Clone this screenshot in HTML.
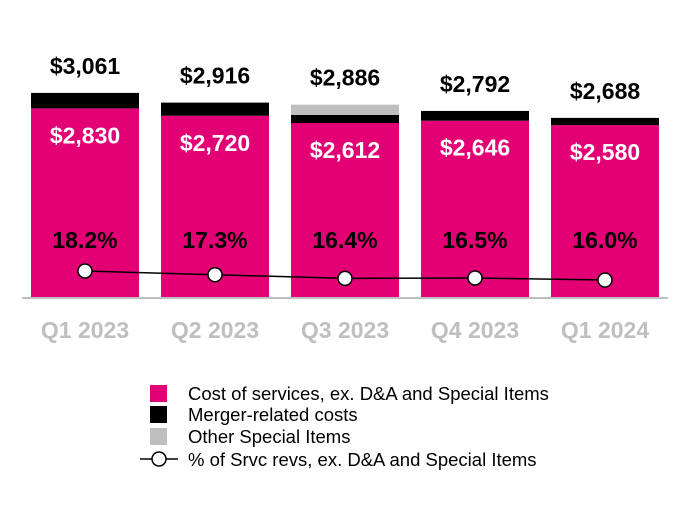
<!DOCTYPE html>
<html><head><meta charset="utf-8"><style>
body{margin:0;background:#fff;font-family:"Liberation Sans",Arial,sans-serif}
svg text{font-family:"Liberation Sans",Arial,sans-serif}
</style></head><body>
<svg id="c" width="690" height="500"></svg>
<script>
const categories=["Q1 2023","Q2 2023","Q3 2023","Q4 2023","Q1 2024"];
const costValues=[2830,2720,2612,2646,2580];
const mergerValues=[231,196,120,146,108];
const otherValues=[0,0,154,0,0];
const totalLabels=["$3,061","$2,916","$2,886","$2,792","$2,688"];
const costLabels=["$2,830","$2,720","$2,612","$2,646","$2,580"];
const pctValues=[18.2,17.3,16.4,16.5,16.0];
const NS="http://www.w3.org/2000/svg";
const svg=document.getElementById('c');
const base=298,scale=0.067;
const y=v=>base-v*scale;
const xc=i=>85+i*130;
const py=p=>271-(p-18.2)*4.1;
const bw=108;
function mk(t,a,txt){const e=document.createElementNS(NS,t);for(const k in a)e.setAttribute(k,a[k]);if(txt!==undefined)e.textContent=txt;svg.appendChild(e);return e;}
categories.forEach((c,i)=>{
  const x=xc(i)-bw/2;
  const r1=mk('rect',{x:x,y:y(costValues[i]),width:bw,height:costValues[i]*scale,fill:'#e20074'});
  
  
  const r2=mk('rect',{x:x,y:y(costValues[i]+mergerValues[i]),width:bw,height:mergerValues[i]*scale,fill:'#000'});
  
  
  if(otherValues[i]>0){
    const r3=mk('rect',{x:x,y:y(costValues[i]+mergerValues[i]+otherValues[i]),width:bw,height:otherValues[i]*scale,fill:'#bfbfbf'});
    
    
  }
  const tot=costValues[i]+mergerValues[i]+otherValues[i];
  const t1=mk('text',{x:xc(i),y:y(tot)-19,'text-anchor':'middle','font-size':23,'font-weight':'bold',fill:'#000'},totalLabels[i]);
  
  
  const t2=mk('text',{x:xc(i),y:y(costValues[i])+35,'text-anchor':'middle','font-size':23,'font-weight':'bold',fill:'#fff'},costLabels[i]);
  
  
  const t3=mk('text',{x:xc(i),y:248,'text-anchor':'middle','font-size':23,'font-weight':'bold',fill:'#000'},pctValues[i].toFixed(1)+'%');
  
  
  const t4=mk('text',{x:xc(i),y:338,'text-anchor':'middle','font-size':23,'font-weight':'bold',fill:'#bfbfbf'},c);
  
  
});
const ax=mk('line',{x1:22,x2:668,y1:base,y2:base,stroke:'#bfbfbf','stroke-width':2});


const pl=mk('polyline',{points:pctValues.map((p,i)=>xc(i)+','+py(p)).join(' '),fill:'none',stroke:'#000','stroke-width':1.5});


pctValues.forEach((p,i)=>{
  const c=mk('circle',{cx:xc(i),cy:py(p),r:7,fill:'#fff',stroke:'#000','stroke-width':1.5});
  
  
});
</script>
<svg width="690" height="500" style="position:absolute;left:0;top:0">
<rect x="150" y="385" width="17" height="17" fill="#e20074"/>
<text x="188" y="400" font-size="18.5">Cost of services, ex. D&amp;A and Special Items</text>
<rect x="150" y="406" width="17" height="17" fill="#000"/>
<text x="188" y="421" font-size="18.5">Merger-related costs</text>
<rect x="150" y="428" width="17" height="17" fill="#bfbfbf"/>
<text x="188" y="443" font-size="18.5">Other Special Items</text>
<line x1="140" x2="178" y1="459" y2="459" stroke="#000" stroke-width="1.5"/>
<circle cx="159" cy="459" r="7" fill="#fff" stroke="#000" stroke-width="1.5"/>
<text x="188" y="466" font-size="18.5">% of Srvc revs, ex. D&amp;A and Special Items</text>
</svg>
</body></html>
